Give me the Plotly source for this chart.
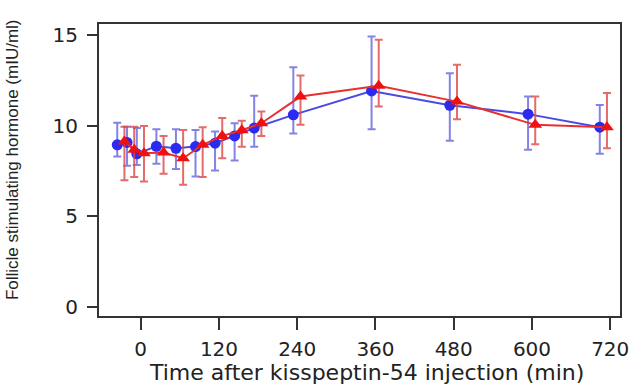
import plotly.graph_objects as go

# ---- data ----
times = [-30, -15, 0, 30, 60, 90, 120, 150, 180, 240, 360, 480, 600, 710]

blue_mean  = [8.94, 9.07, 8.44, 8.86, 8.75, 8.84, 9.03, 9.43, 9.86, 10.59, 11.91, 11.12, 10.63, 9.91]
blue_upper = [10.15, 9.94, 9.87, 9.79, 9.79, 9.76, 9.67, 10.13, 11.64, 13.21, 14.91, 12.89, 11.60, 11.14]
blue_lower = [8.29, 7.78, 7.83, 7.89, 7.61, 7.19, 7.52, 8.08, 8.83, 9.56, 9.80, 9.16, 8.66, 8.44]

red_mean  = [9.12, 8.66, 8.47, 8.51, 8.20, 8.94, 9.43, 9.74, 10.13, 11.60, 12.19, 11.32, 10.04, 9.91]
red_upper = [9.94, 9.94, 9.98, 9.43, 9.76, 9.91, 10.42, 10.26, 10.77, 12.76, 14.73, 13.35, 11.60, 11.79]
red_lower = [6.98, 7.17, 6.91, 7.34, 6.73, 7.16, 8.20, 8.83, 9.43, 10.04, 11.05, 10.35, 8.97, 8.75]

x_ticks = [0, 120, 240, 360, 480, 600, 720]
y_ticks = [0, 5, 10, 15]

x_title = "Time after kisspeptin-54 injection (min)"
y_title = "Follicle stimulating hormone (mIU/ml)"

# ---- styling ----
BLUE_OFFSET = -6
RED_OFFSET = 5
FONT = "Liberation Sans, Arial, Helvetica, sans-serif"
WIDE_FONT = "DejaVu Sans, Liberation Sans, sans-serif"
INK = "#222"

blue_x = [t + BLUE_OFFSET for t in times]
red_x = [t + RED_OFFSET for t in times]

fig = go.Figure()

fig.add_trace(go.Scatter(
    x=blue_x, y=blue_mean, mode="lines+markers",
    line=dict(color="#4a4ae0", width=2),
    marker=dict(symbol="circle", size=11, color="#2a2af0"),
    error_y=dict(type="data", symmetric=False,
                 array=[u - m for u, m in zip(blue_upper, blue_mean)],
                 arrayminus=[m - l for m, l in zip(blue_mean, blue_lower)],
                 color="rgba(90,90,220,0.75)", thickness=2, width=4),
    showlegend=False,
))

fig.add_trace(go.Scatter(
    x=red_x, y=red_mean, mode="lines+markers",
    line=dict(color="#e83030", width=2),
    marker=dict(symbol="triangle-up", size=12, color="#f01010"),
    error_y=dict(type="data", symmetric=False,
                 array=[u - m for u, m in zip(red_upper, red_mean)],
                 arrayminus=[m - l for m, l in zip(red_mean, red_lower)],
                 color="rgba(220,70,70,0.8)", thickness=2, width=4),
    showlegend=False,
))

fig.update_layout(
    width=635, height=385,
    margin=dict(l=99, r=15, t=24, b=69),
    paper_bgcolor="white", plot_bgcolor="white",
    font=dict(family=FONT, color=INK),
)

fig.update_xaxes(
    range=[-64, 735], tickmode="array", tickvals=x_ticks,
    ticks="outside", ticklen=12, tickwidth=2, tickcolor="#333",
    showline=True, linecolor="#333", linewidth=2, mirror=True,
    showgrid=False, zeroline=False, automargin=False,
    ticklabelstandoff=2,
    tickfont=dict(size=20, family=WIDE_FONT, color=INK),
)

fig.update_yaxes(
    range=[-0.5, 15.6], tickmode="array", tickvals=y_ticks,
    ticks="outside", ticklen=10, tickwidth=2, tickcolor="#333",
    showline=True, linecolor="#333", linewidth=2, mirror=True,
    showgrid=False, zeroline=False, automargin=False,
    ticklabelstandoff=5,
    tickfont=dict(size=20, family=WIDE_FONT, color=INK),
)

# axis titles placed as annotations for exact placement
fig.add_annotation(
    text=x_title, xref="paper", yref="paper", x=0.5125, y=0,
    xanchor="center", yanchor="middle", yshift=-56, showarrow=False,
    font=dict(size=22, family=WIDE_FONT, color=INK),
)
fig.add_annotation(
    text=y_title, xref="paper", yref="paper", x=0, y=0.534,
    xanchor="center", yanchor="middle", xshift=-87, textangle=-90,
    showarrow=False, font=dict(size=17, family=FONT, color=INK),
)

fig.write_html(
    "out.html",
    config={"displayModeBar": False},
    post_script="document.body.style.margin='0';document.body.style.overflow='hidden';",
)
